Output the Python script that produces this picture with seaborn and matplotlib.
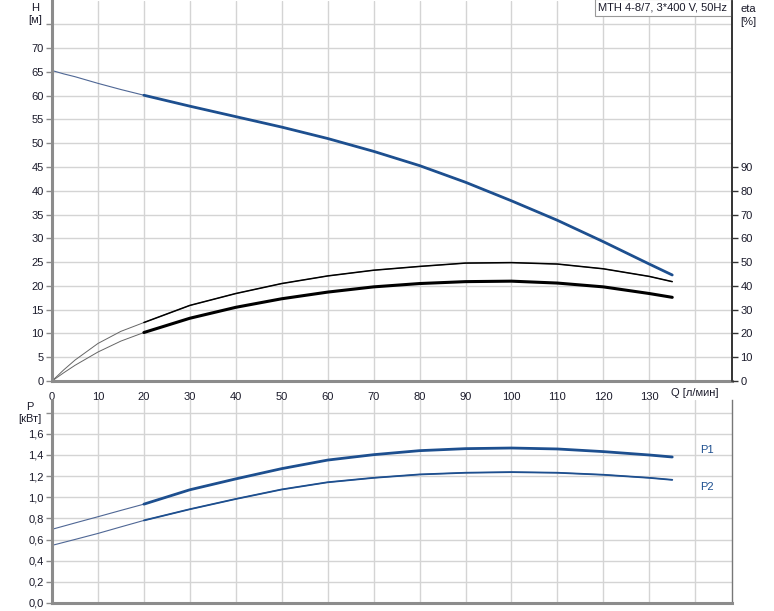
import numpy as np
import pandas as pd
import matplotlib
matplotlib.use("Agg")
import matplotlib.pyplot as plt
import seaborn as sns

# Flow rate points [l/min]
q = [0, 2.5, 5, 10, 15, 20, 30, 40, 50, 60, 70, 80, 90, 100, 110, 120, 130, 135]

# Head H [m]
head = [65.3, 64.6, 64.0, 62.6, 61.3, 60.1, 57.8, 55.6, 53.4, 51.0, 48.3, 45.3, 41.8, 37.9, 33.8, 29.3, 24.6, 22.3]

# Efficiencies [%] (right axis)
eta_upper = [0, 4.6, 8.8, 15.8, 20.9, 24.6, 31.8, 36.8, 41.0, 44.2, 46.6, 48.2, 49.6, 49.8, 49.2, 47.2, 44.0, 41.8]
eta_lower = [0, 3.4, 6.6, 12.2, 16.8, 20.4, 26.4, 31.0, 34.6, 37.4, 39.6, 41.0, 41.8, 42.0, 41.2, 39.6, 36.8, 35.2]

# Power [kW]
p1 = [0.697, 0.727, 0.757, 0.816, 0.876, 0.935, 1.071, 1.174, 1.271, 1.352, 1.403, 1.441, 1.460, 1.466, 1.457, 1.432, 1.400, 1.381]
p2 = [0.545, 0.573, 0.601, 0.658, 0.720, 0.781, 0.887, 0.984, 1.074, 1.142, 1.184, 1.216, 1.232, 1.238, 1.232, 1.213, 1.184, 1.165]

title = "MTH 4-8/7, 3*400 V, 50Hz"
h_ticks = [0, 5, 10, 15, 20, 25, 30, 35, 40, 45, 50, 55, 60, 65, 70]
eta_ticks = [0, 10, 20, 30, 40, 50, 60, 70, 80, 90]
q_ticks = [0, 10, 20, 30, 40, 50, 60, 70, 80, 90, 100, 110, 120, 130]
p_ticks = [0, 0.2, 0.4, 0.6, 0.8, 1.0, 1.2, 1.4, 1.6]

df = pd.DataFrame({"Q": q, "H": head, "eta1": eta_upper, "eta2": eta_lower, "P1": p1, "P2": p2})
# eta drawn on the H axes: 10 % == 5 m
df["eta1_h"] = df["eta1"] / 2
df["eta2_h"] = df["eta2"] / 2
work = df[df["Q"] >= 20]

sns.set_theme(style="whitegrid")
plt.rcParams["font.family"] = ["Liberation Sans", "DejaVu Sans"]
plt.rcParams["font.size"] = 8

blue = "#1d4f8f"
thin_blue = "#4f6795"
grid_c = "#d4d4d4"
spine_c = "#8c8c8c"
txt_c = "#1a1a2a"

fig = plt.figure(figsize=(7.74, 6.11), dpi=100)
ax = fig.add_axes([0.0672, 0.3764, 0.8785, 0.6226])
axp = fig.add_axes([0.0672, 0.0131, 0.8785, 0.3322])

# ---- top: head + efficiency
sns.lineplot(data=df, x="Q", y="H", ax=ax, color=thin_blue, lw=0.8)
sns.lineplot(data=work, x="Q", y="H", ax=ax, color=blue, lw=2.0)
sns.lineplot(data=df, x="Q", y="eta1_h", ax=ax, color="#666666", lw=0.7)
sns.lineplot(data=work, x="Q", y="eta1_h", ax=ax, color="black", lw=1.1)
sns.lineplot(data=df, x="Q", y="eta2_h", ax=ax, color="#666666", lw=0.7)
sns.lineplot(data=work, x="Q", y="eta2_h", ax=ax, color="black", lw=2.2)

ax.set_xlim(0, 148)
ax.set_ylim(0, 80)
ax.set_xticks(q_ticks + [140])
ax.set_xticklabels([str(t) for t in q_ticks] + [""])
ax.set_yticks(h_ticks + [75])
ax.set_yticklabels([str(t) for t in h_ticks] + [""])
ax.set_xlabel("")
ax.set_ylabel("")

ax2 = ax.twinx()
ax2.set_ylim(0, 160)
ax2.set_yticks(eta_ticks)
ax2.grid(False)

# ---- bottom: power
sns.lineplot(data=df, x="Q", y="P1", ax=axp, color=thin_blue, lw=0.8)
sns.lineplot(data=work, x="Q", y="P1", ax=axp, color=blue, lw=2.0)
sns.lineplot(data=df, x="Q", y="P2", ax=axp, color=thin_blue, lw=0.8)
sns.lineplot(data=work, x="Q", y="P2", ax=axp, color=blue, lw=1.3)
axp.set_xlim(0, 148)
axp.set_ylim(0, 1.92)
axp.set_xticks(q_ticks + [140])
axp.set_xticklabels([])
axp.set_yticks(p_ticks + [1.8])
axp.set_yticklabels([f"{t:.1f}".replace(".", ",") for t in p_ticks] + [""])
axp.set_xlabel("")
axp.set_ylabel("")
axp.text(141, 1.45, "P1", color=blue, fontsize=8, va="center")
axp.text(141, 1.10, "P2", color=blue, fontsize=8, va="center")

for a in (ax, axp):
    a.grid(True, color=grid_c, lw=1.0)
    a.tick_params(axis="y", left=True, length=4, width=1, color=spine_c, labelsize=8, pad=2)
    a.tick_params(axis="x", bottom=False, labelsize=8, pad=2)
    a.spines["left"].set_color(spine_c)
    a.spines["left"].set_linewidth(2.2)
    a.spines["top"].set_visible(False)
    for lab in a.get_yticklabels() + a.get_xticklabels():
        lab.set_color(txt_c)

ax.spines["bottom"].set_color(spine_c)
ax.spines["bottom"].set_linewidth(2.2)
ax.spines["right"].set_color("#333333")
ax.spines["right"].set_linewidth(1.2)
ax2.spines["right"].set_color("#333333")
ax2.spines["right"].set_linewidth(1.2)
for s in ("left", "top", "bottom"):
    ax2.spines[s].set_visible(False)
ax2.tick_params(axis="y", right=True, length=4, width=1, color="#333333", labelsize=8, pad=2)
for lab in ax2.get_yticklabels():
    lab.set_color(txt_c)
axp.spines["bottom"].set_color(spine_c)
axp.spines["bottom"].set_linewidth(2.2)
axp.spines["right"].set_color("#777777")
axp.spines["right"].set_linewidth(1.0)

# axis captions
fig.text(0.046, 0.995, "H\n[м]", ha="center", va="top", fontsize=8, color=txt_c, linespacing=1.3)
fig.text(0.967, 0.993, "eta\n[%]", ha="center", va="top", fontsize=8, color=txt_c, linespacing=1.3)
fig.text(0.038, 0.342, "P\n[кВт]", ha="center", va="top", fontsize=8, color=txt_c, linespacing=1.3)
ax.text(140, -1.4, "Q [л/мин]", ha="center", va="top", fontsize=8, color=txt_c)

ax.text(0.993, 0.995, title, transform=ax.transAxes, ha="right", va="top", fontsize=8,
        color=txt_c,
        bbox=dict(boxstyle="square,pad=0.3", fc="white", ec="#999999", lw=0.8))

fig.savefig("out.png", dpi=100)
